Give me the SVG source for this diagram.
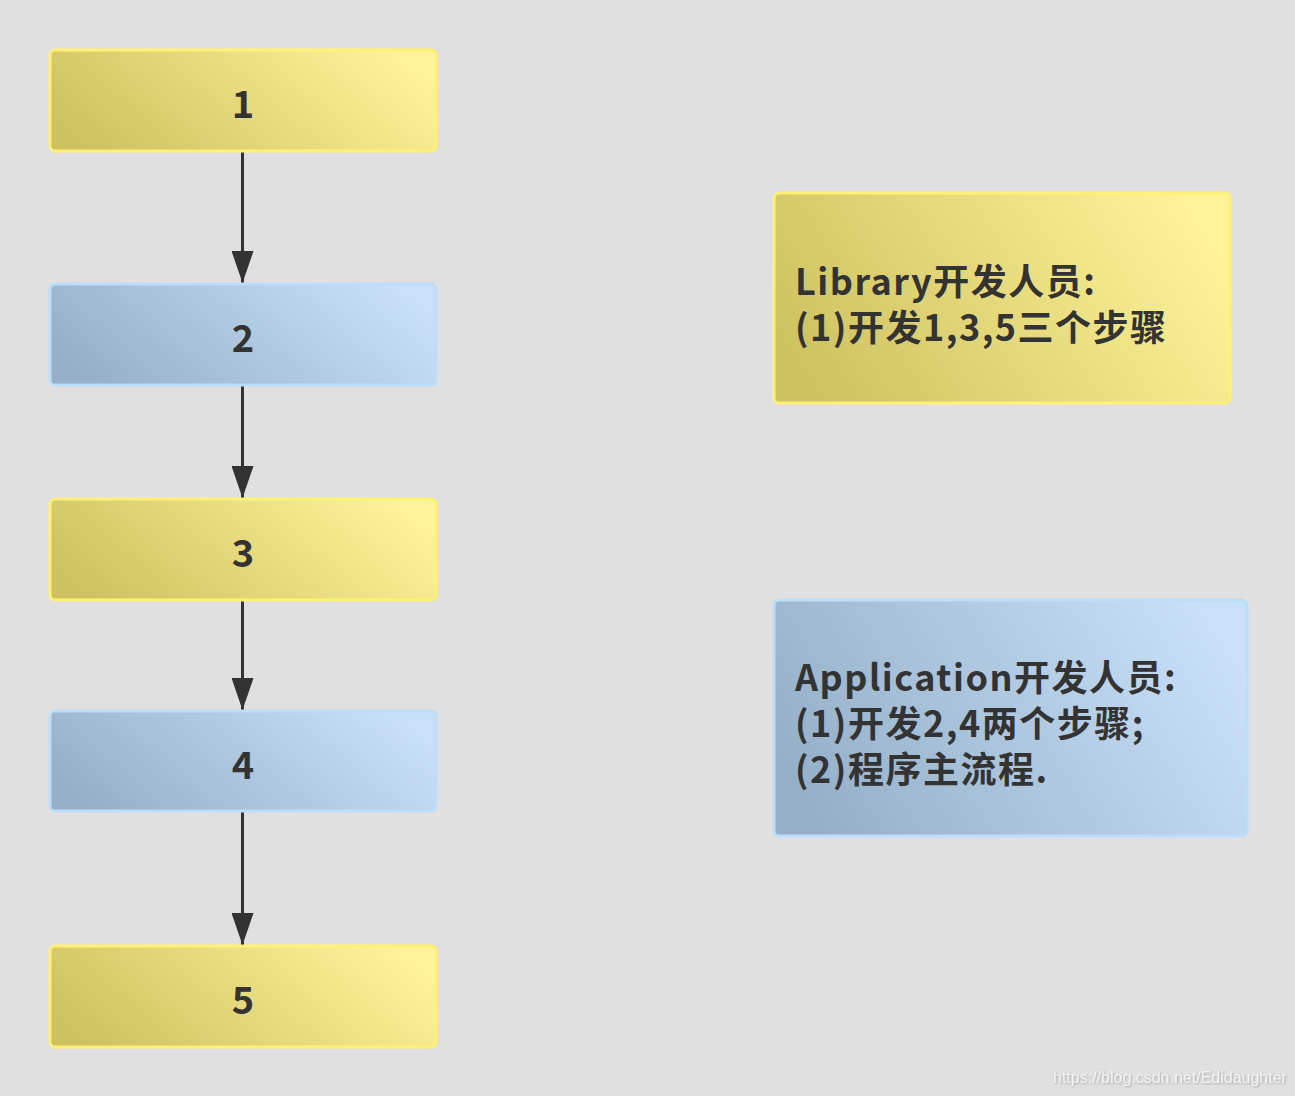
<svg xmlns="http://www.w3.org/2000/svg" width="1295" height="1096" viewBox="0 0 1295 1096">
<defs>
<linearGradient id="gy" x1="0" y1="0.65" x2="1" y2="0.35">
<stop offset="0" stop-color="#cdc160"/>
<stop offset="1" stop-color="#fff39a"/>
</linearGradient>
<linearGradient id="gb" x1="0" y1="0.65" x2="1" y2="0.35">
<stop offset="0" stop-color="#95afc8"/>
<stop offset="1" stop-color="#c8e1f8"/>
</linearGradient>
<marker id="ah" viewBox="0 0 32 22" refX="32" refY="11" markerWidth="32" markerHeight="22" markerUnits="userSpaceOnUse" orient="auto">
<path d="M0,0 L32,11 L0,22 Z" fill="#333"/>
</marker>
<filter id="sh" x="-5%" y="-50%" width="110%" height="200%">
<feDropShadow dx="1" dy="1" stdDeviation="0.8" flood-color="#999" flood-opacity="0.8"/>
</filter>
</defs>
<style>
.y{fill:url(#gy);stroke:#fff176;stroke-width:3}
.b{fill:url(#gb);stroke:#bbdefb;stroke-width:3}
.n{font-family:"Noto Sans CJK SC","Noto Sans",sans-serif;font-weight:bold;font-size:38px;fill:#333;text-anchor:middle}
.t{font-family:"Noto Sans CJK SC","Noto Sans",sans-serif;font-weight:bold;font-size:36px;letter-spacing:1.5px;fill:#333}
.c{stroke:#333;stroke-width:3;fill:none}
</style>
<rect width="1295" height="1096" fill="#e0e0e0"/>
<g id="connectors">
<line class="c" x1="242.5" y1="152" x2="242.5" y2="283" marker-end="url(#ah)"/>
<line class="c" x1="242.5" y1="386" x2="242.5" y2="498" marker-end="url(#ah)"/>
<line class="c" x1="242.5" y1="601" x2="242.5" y2="710" marker-end="url(#ah)"/>
<line class="c" x1="242.5" y1="812" x2="242.5" y2="945" marker-end="url(#ah)"/>
</g>
<g id="n1"><rect class="y" x="50" y="50" width="386" height="101" rx="5"/><text class="n" x="243" y="118">1</text></g>
<g id="n2"><rect class="b" x="50" y="284" width="386" height="101" rx="5"/><text class="n" x="243" y="352">2</text></g>
<g id="n3"><rect class="y" x="50" y="499" width="386" height="101" rx="5"/><text class="n" x="243" y="567">3</text></g>
<g id="n4"><rect class="b" x="50" y="711" width="386" height="100" rx="5"/><text class="n" x="243" y="779">4</text></g>
<g id="n5"><rect class="y" x="50" y="946" width="386" height="101" rx="5"/><text class="n" x="243" y="1014">5</text></g>
<g id="lib"><rect class="y" x="774" y="193" width="456" height="210" rx="5"/>
<text class="t" x="795" y="295">Library开发人员:</text>
<text class="t" x="795" y="341">(1)开发1,3,5三个步骤</text></g>
<g id="app"><rect class="b" x="774" y="600" width="473" height="236" rx="5"/>
<text class="t" x="795" y="691">Application开发人员:</text>
<text class="t" x="795" y="737">(1)开发2,4两个步骤;</text>
<text class="t" x="795" y="783">(2)程序主流程.</text></g>
<text x="1053" y="1083" font-family="Liberation Sans,Arial,sans-serif" font-size="16" fill="#f4f4f4" filter="url(#sh)">https://blog.csdn.net/Edidaughter</text>
</svg>
